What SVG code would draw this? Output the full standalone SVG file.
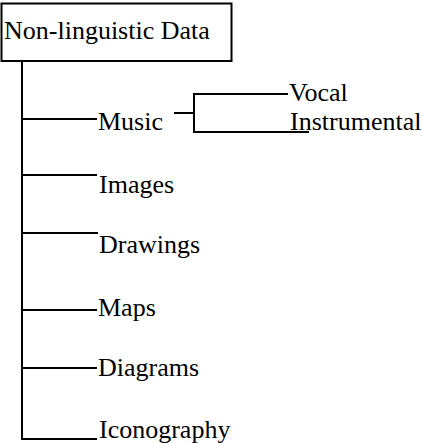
<svg xmlns="http://www.w3.org/2000/svg" width="422" height="443" viewBox="0 0 422 443">
<style>
text{font-family:"Liberation Serif","Times New Roman",serif;font-size:26px;fill:#000}
.ln,.box{stroke:#000;stroke-width:2;fill:none}
.bg{fill:#fff;stroke:none}
</style>
<rect class="bg" x="0" y="0" width="422" height="443"/>
<g id="root">
<rect class="box" x="1.5" y="3.5" width="230" height="57.5"/>
<text x="4" y="39">Non-linguistic Data</text>
</g>
<g id="connectors">
<line class="ln" x1="22" y1="61" x2="22" y2="440"/>
<line class="ln" x1="21" y1="119" x2="97" y2="119"/>
<line class="ln" x1="21" y1="175" x2="97" y2="175"/>
<line class="ln" x1="21" y1="233" x2="98" y2="233"/>
<line class="ln" x1="21" y1="310" x2="97" y2="310"/>
<line class="ln" x1="21" y1="368" x2="97" y2="368"/>
<line class="ln" x1="21" y1="439" x2="97" y2="439"/>
<line class="ln" x1="174" y1="113" x2="194" y2="113"/>
<line class="ln" x1="194" y1="93" x2="194" y2="133"/>
<line class="ln" x1="193" y1="94" x2="288" y2="94"/>
<line class="ln" x1="193" y1="132" x2="309" y2="132"/>
</g>
<g id="music"><text x="98" y="130">Music</text></g>
<g id="vocal"><text x="289" y="101">Vocal</text></g>
<g id="instrumental"><text x="290" y="130">Instrumental</text></g>
<g id="images"><text x="99" y="193">Images</text></g>
<g id="drawings"><text x="99" y="253">Drawings</text></g>
<g id="maps"><text x="98" y="316">Maps</text></g>
<g id="diagrams"><text x="98" y="376">Diagrams</text></g>
<g id="iconography"><text x="99" y="438">Iconography</text></g>
</svg>
